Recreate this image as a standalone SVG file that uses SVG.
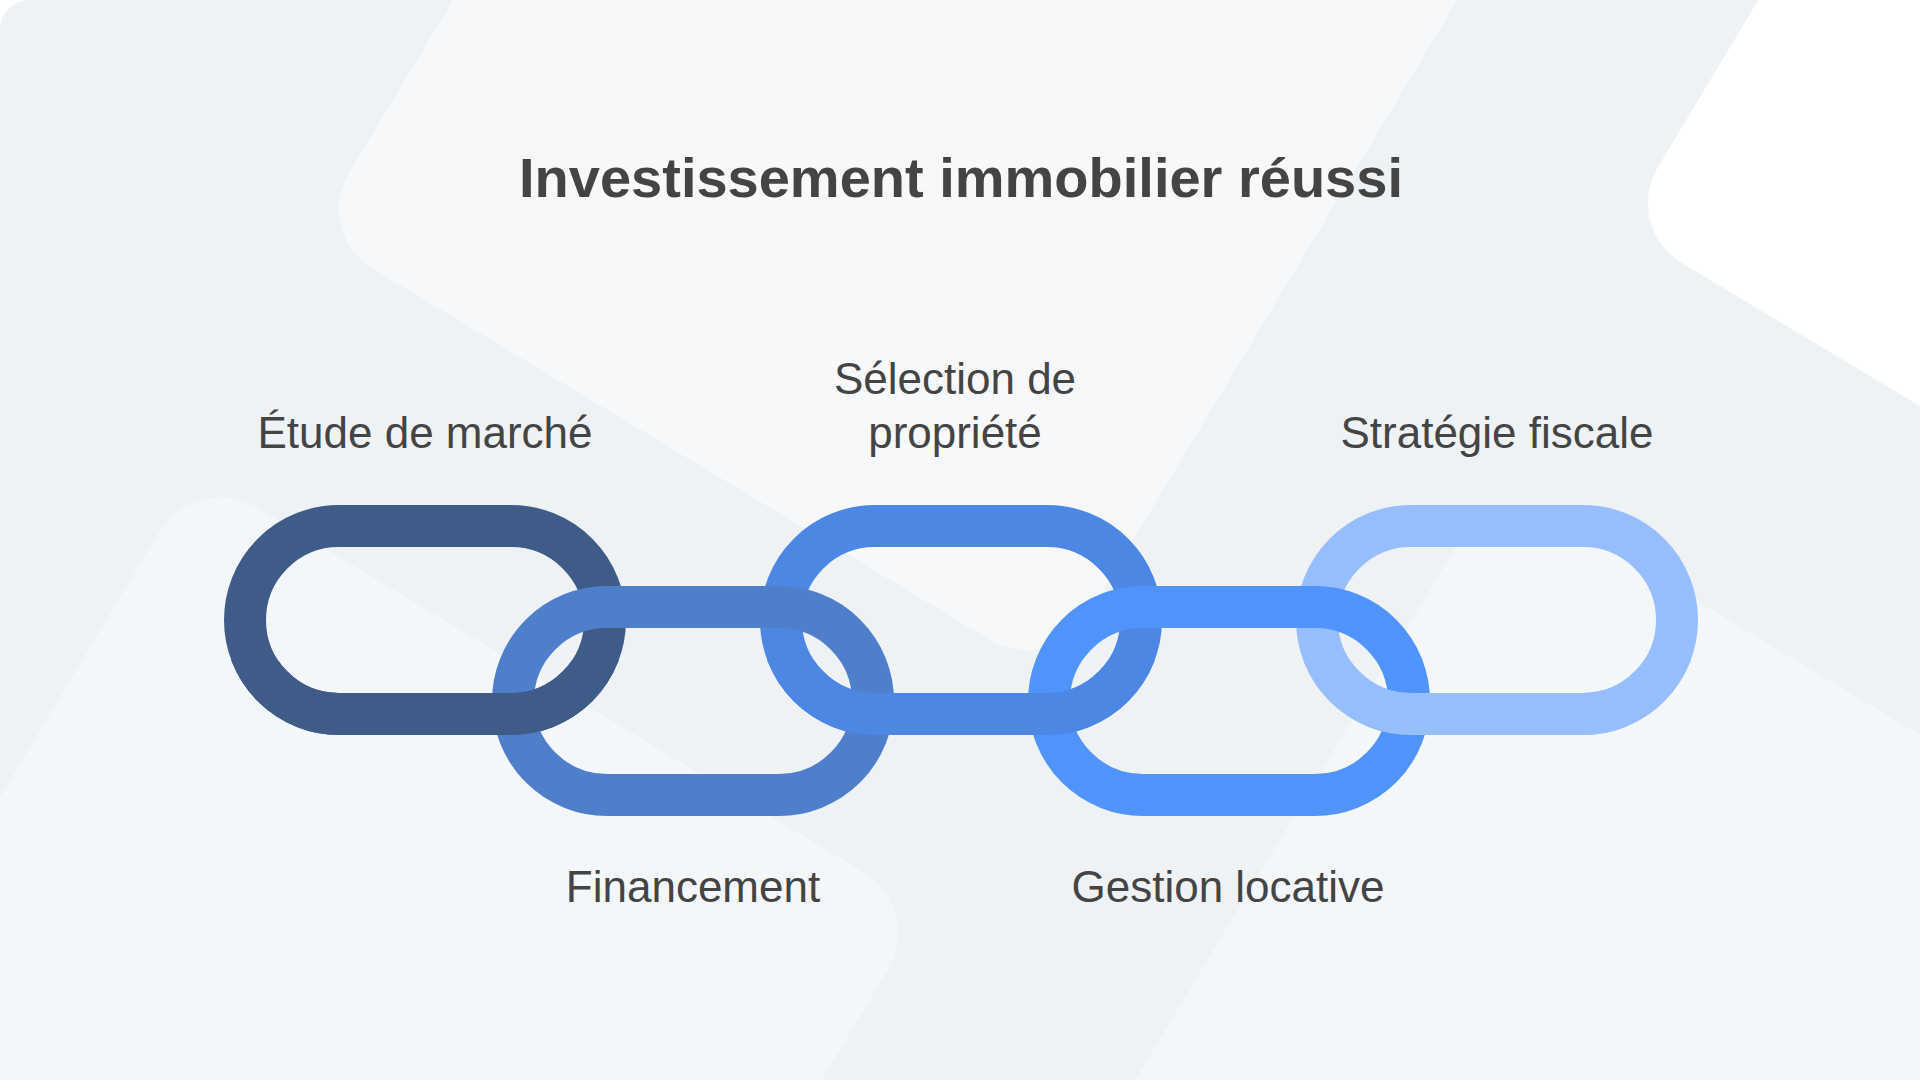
<svg xmlns="http://www.w3.org/2000/svg" xmlns:xlink="http://www.w3.org/1999/xlink" width="1920" height="1080" viewBox="0 0 1920 1080">
  <defs>
    <style>
      .title { font-family: "Liberation Sans", Arial, sans-serif; font-weight: bold; font-size: 56px; fill: #444444; text-anchor: middle; }
      .label { font-family: "Liberation Sans", Arial, sans-serif; font-size: 44px; fill: #444444; text-anchor: middle; }
      .link { fill: none; stroke-width: 42; }
      .bg-shape { fill: #F6F8FA; }
    </style>
    <clipPath id="lowerHalf">
      <rect x="0" y="660" width="1920" height="420"/>
    </clipPath>
  </defs>

  <!-- background -->
  <g id="background">
    <rect x="0" y="0" width="1920" height="1080" fill="#FFFFFF"/>
    <rect x="0" y="0" width="1920" height="1080" rx="30" ry="30" fill="#EEF2F5"/>
    <rect class="bg-shape" x="0" y="-1200" width="861" height="1200" rx="70" transform="translate(313,233) rotate(31)"/>
    <rect class="bg-shape" x="0" y="0" width="850" height="1000" rx="70" transform="translate(196,471) rotate(31)" style="fill:#F4F7F9"/>
    <rect class="bg-shape" x="0" y="0" width="850" height="1000" rx="70" transform="translate(1496,480) rotate(31)" style="fill:#F4F7F9"/>
    <rect x="0" y="-1200" width="900" height="1200" rx="70" fill="#FFFFFF" transform="translate(1622,227) rotate(31)"/>
  </g>

  <text class="title" x="961" y="197">Investissement immobilier réussi</text>

  <g id="node-etude">
    <rect id="link1" class="link" x="245" y="526" width="360" height="188" rx="94" ry="94" stroke="#3F5B87"/>
    <text class="label" x="425" y="448">Étude de marché</text>
  </g>
  <g id="node-selection">
    <rect id="link3" class="link" x="781" y="526" width="360" height="188" rx="94" ry="94" stroke="#4C88E3"/>
    <text class="label" x="955" y="394">Sélection de</text>
    <text class="label" x="955" y="448">propriété</text>
  </g>
  <g id="node-strategie">
    <rect id="link5" class="link" x="1317" y="526" width="360" height="188" rx="94" ry="94" stroke="#97BEFC"/>
    <text class="label" x="1497" y="448">Stratégie fiscale</text>
  </g>
  <g id="node-financement">
    <rect id="link2" class="link" x="513" y="607" width="360" height="188" rx="94" ry="94" stroke="#4F7FCA"/>
    <text class="label" x="693" y="902">Financement</text>
  </g>
  <g id="node-gestion">
    <rect id="link4" class="link" x="1049" y="607" width="360" height="188" rx="94" ry="94" stroke="#5094FB"/>
    <text class="label" x="1228" y="902">Gestion locative</text>
  </g>

  <!-- interlocking: lower halves of upper links pass over the lower links -->
  <g id="connectors" clip-path="url(#lowerHalf)">
    <use href="#link1" xlink:href="#link1"/>
    <use href="#link3" xlink:href="#link3"/>
    <use href="#link5" xlink:href="#link5"/>
  </g>
</svg>
